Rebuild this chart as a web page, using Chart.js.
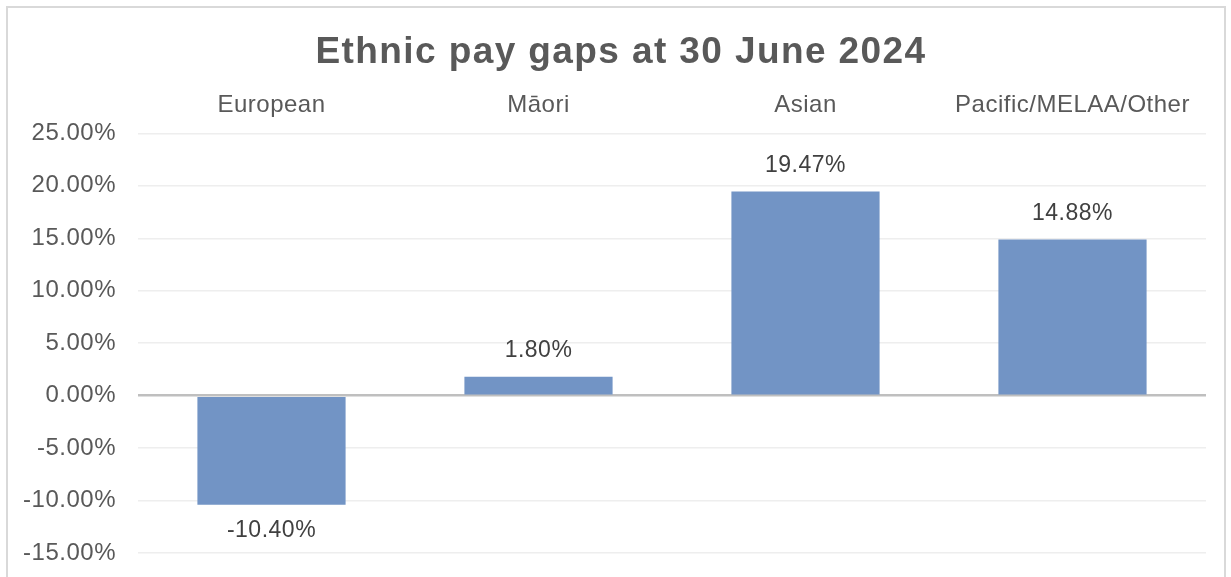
<!DOCTYPE html>
<html>
<head>
<meta charset="utf-8">
<script src="https://cdn.jsdelivr.net/npm/chart.js@4/dist/chart.umd.min.js"></script>
<style>
  html, body { margin: 0; padding: 0; background: #fff; overflow: hidden; }
  #frame { position: absolute; left: 6px; top: 6px; border: 2px solid #D9D9D9; }
  canvas { display: block; }
</style>
</head>
<body>
<div id="frame"><canvas id="gap-chart" width="1216" height="620"></canvas></div>
<script>
const chartTitle = 'Ethnic pay gaps at 30 June 2024';
const groups = ['European', 'Māori', 'Asian', 'Pacific/MELAA/Other'];
const payGaps = [-10.40, 1.80, 19.47, 14.88];
const yTicks = [-15, -10, -5, 0, 5, 10, 15, 20, 25];

const FONT = '"Liberation Sans", Arial, sans-serif';
const TITLE_SIZE = 37;

// value labels next to each bar, plus the letter-spaced title
// (the built-in title only reserves the space, it is drawn transparent)
const barLabels = {
    id: 'barLabels',
    beforeDraw(chart) {
        chart.ctx.letterSpacing = '0.5px';
    },
    afterDatasetsDraw(chart) {
        const ctx = chart.ctx;
        const meta = chart.getDatasetMeta(0);
        ctx.save();
        ctx.font = '23px ' + FONT;
        ctx.fillStyle = '#404040';
        ctx.textAlign = 'center';
        ctx.textBaseline = 'middle';
        meta.data.forEach((bar, i) => {
            const v = payGaps[i];
            const y = v < 0 ? bar.y + 26 : bar.y - 26;
            ctx.fillText(v.toFixed(2) + '%', bar.x, y);
        });
        ctx.restore();
    },
    afterDraw(chart) {
        const ctx = chart.ctx;
        const tb = chart.titleBlock;
        ctx.save();
        ctx.letterSpacing = '1.4px';
        ctx.font = 'bold ' + TITLE_SIZE + 'px ' + FONT;
        ctx.fillStyle = '#595959';
        ctx.textAlign = 'center';
        ctx.textBaseline = 'middle';
        ctx.fillText(chartTitle, chart.width / 2 + 5, tb.top + 23 + TITLE_SIZE * 0.6);
        ctx.restore();
        ctx.letterSpacing = '0px';
    }
};

const ctx = document.getElementById('gap-chart');
new Chart(ctx, {
    type: 'bar',
    data: {
        labels: groups,
        datasets: [{
            data: payGaps,
            backgroundColor: '#7294C5',
            categoryPercentage: 1,
            barPercentage: 0.555
        }]
    },
    options: {
        responsive: false,
        animation: false,
        layout: { padding: { left: 0, right: 18, top: 0, bottom: 75 } },
        scales: {
            x: {
                position: 'top',
                grid: { display: false, drawTicks: false },
                border: { display: false },
                ticks: {
                    color: '#595959',
                    font: { family: FONT, size: 24 },
                    padding: 14,
                    maxRotation: 0
                },
                afterFit: (scale) => { scale.height = 58; }
            },
            y: {
                min: yTicks[0],
                max: yTicks[yTicks.length - 1],
                afterBuildTicks: (scale) => { scale.ticks = yTicks.map(v => ({ value: v })); },
                grid: {
                    drawTicks: false,
                    color: (c) => c.tick && c.tick.value === 0 ? '#BFBFBF' : '#EEEEEE',
                    lineWidth: (c) => c.tick && c.tick.value === 0 ? 2.5 : 1.5
                },
                border: { display: false },
                ticks: {
                    color: '#595959',
                    font: { family: FONT, size: 24 },
                    padding: 22,
                    callback: (value) => value.toFixed(2) + '%'
                },
                afterFit: (scale) => { scale.width = 130; }
            }
        },
        plugins: {
            legend: { display: false },
            tooltip: { enabled: false },
            title: {
                display: true,
                text: chartTitle,
                color: 'rgba(0,0,0,0)',
                font: { family: FONT, size: TITLE_SIZE, weight: 'bold' },
                padding: { top: 23, bottom: 0 }
            }
        }
    },
    plugins: [barLabels]
});
</script>
</body>
</html>
